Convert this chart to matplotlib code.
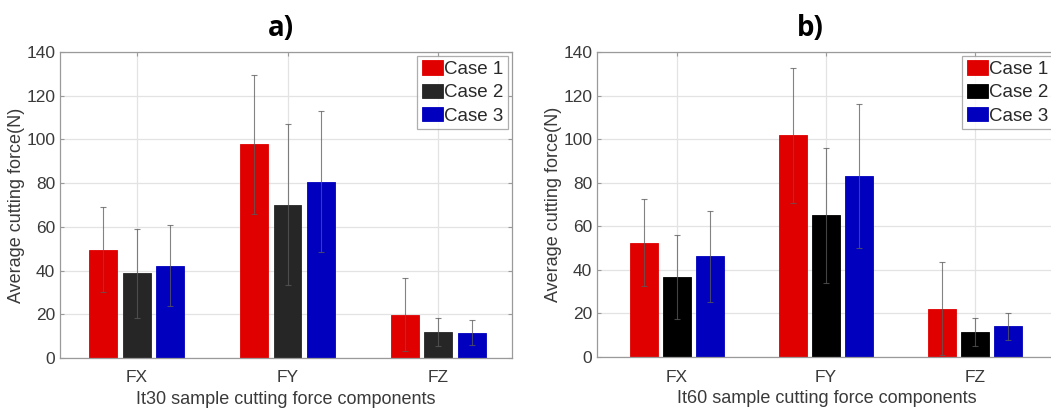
import matplotlib
matplotlib.use("Agg")
import matplotlib.pyplot as plt
import numpy as np

plt.rcParams['font.family'] = ['Liberation Sans', 'DejaVu Sans']

categories = ["FX", "FY", "FZ"]
cases = ["Case 1", "Case 2", "Case 3"]

# panel a) It30
a_means = {"Case 1": [49.5, 97.8, 19.8],
           "Case 2": [38.7, 70.2, 12.0],
           "Case 3": [42.3, 80.6, 11.6]}
a_err = {"Case 1": [19.5, 31.8, 16.7],
         "Case 2": [20.3, 37.0, 6.4],
         "Case 3": [18.4, 32.2, 5.8]}

# panel b) It60
b_means = {"Case 1": [52.5, 101.7, 22.2],
           "Case 2": [36.6, 65.0, 11.5],
           "Case 3": [46.2, 83.0, 14.1]}
b_err = {"Case 1": [20.0, 30.8, 21.3],
         "Case 2": [19.3, 31.0, 6.4],
         "Case 3": [21.0, 33.0, 6.1]}

a_colors = ["#E00000", "#262626", "#0000BE"]
b_colors = ["#E00000", "#000000", "#0000BE"]

fig = plt.figure(figsize=(10.51, 4.12), dpi=100)
ax1 = fig.add_axes([60/1051, 1-358/412, 452/1051, 306/412])
ax2 = fig.add_axes([597/1051, 1-357/412, 460/1051, 305/412])

def draw(ax, means, errs, colors, xlabel, xlim):
    x = np.arange(1, len(categories)+1)
    off = 0.222
    w = 0.185
    for i, c in enumerate(cases):
        xi = x + (i-1)*off
        ax.bar(xi, means[c], w, color=colors[i], edgecolor=colors[i],
               linewidth=0.6, label=c, zorder=2)
        ax.errorbar(xi, means[c], yerr=errs[c], fmt='none', ecolor='#5a5a5a',
                    elinewidth=0.8, capsize=2.2, capthick=0.8, alpha=0.75, zorder=3)
    ax.set_xlim(*xlim)
    ax.set_ylim(0, 140)
    ax.set_yticks(np.arange(0, 141, 20))
    ax.set_xticks(x)
    ax.set_xticklabels(categories)
    ax.grid(True, color='#e3e3e3', linewidth=0.9, zorder=0)
    ax.set_axisbelow(True)
    for s in ax.spines.values():
        s.set_color('#9a9a9a')
        s.set_linewidth(0.9)
    ax.tick_params(colors='#9a9a9a', labelcolor='#3a3a3a', labelsize=12.5,
                   direction='in', length=3, top=True, right=True)
    ax.tick_params(axis='x', pad=9)
    ax.set_ylabel("Average cutting force(N)", fontsize=13, color='#3a3a3a', labelpad=1)
    ax.set_xlabel(xlabel, fontsize=13, color='#3a3a3a', labelpad=4)
    leg = ax.legend(loc='upper right', fontsize=13.5, frameon=True, fancybox=False,
                    edgecolor='#9a9a9a', handlelength=1.15, handleheight=0.8,
                    handletextpad=0.05, borderpad=0.25, labelspacing=0.3,
                    borderaxespad=0.2)
    leg.get_frame().set_linewidth(0.9)
    for t in leg.get_texts():
        t.set_color('#2a2a2a')

draw(ax1, a_means, a_err, a_colors, "It30 sample cutting force components", (0.49, 3.49))
draw(ax2, b_means, b_err, b_colors, "It60 sample cutting force components", (0.463, 3.55))

fig.text(281/1051, 1-28/412, "a)", fontsize=20, fontweight='bold', ha='center', va='center',
         family=['Open Sans', 'DejaVu Sans'])
fig.text(810/1051, 1-28/412, "b)", fontsize=20, fontweight='bold', ha='center', va='center',
         family=['Open Sans', 'DejaVu Sans'])

fig.savefig("out.png", dpi=100)
